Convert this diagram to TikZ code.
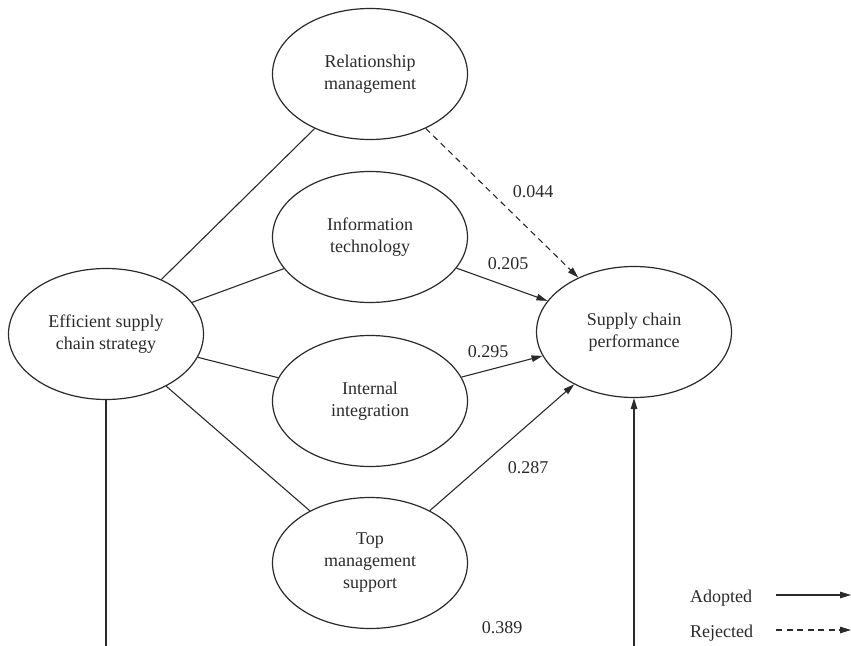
\documentclass[tikz,border=0pt]{standalone}
\usepackage{fontspec}
\setmainfont{Liberation Serif}
\usetikzlibrary{shapes.geometric,arrows.meta}
\definecolor{ink}{HTML}{2A2A2A}
\begin{document}
\begin{tikzpicture}[x=1pt,y=-1pt,
  ell/.style={draw=ink,line width=1.2pt,ellipse,minimum width=195pt,minimum height=131pt,inner sep=0pt,align=center,font=\fontsize{18}{22}\selectfont,text=ink},
  lbl/.style={font=\fontsize{18}{22}\selectfont,text=ink,inner sep=0pt},
  conn/.style={draw=ink,line width=1.1pt},
  arr/.style={conn,-{Triangle[length=11pt,width=6.5pt]}},
  rej/.style={arr,dash pattern=on 6pt off 4.5pt}]
\useasboundingbox (0,0) rectangle (851,645);
\node[ell] (rel) at (370,74) {Relationship\\management};
\node[ell] (it) at (370,237) {Information\\technology};
\node[ell] (ii) at (370,401) {Internal\\integration};
\node[ell] (tms) at (370,563) {Top\\management\\support};
\node[ell] (escs) at (106,334) {Efficient supply\\chain strategy};
\node[ell] (scp) at (634,332) {Supply chain\\performance};
\draw[conn] (escs) -- (rel);
\draw[conn] (escs) -- (it);
\draw[conn] (escs) -- (ii);
\draw[conn] (escs) -- (tms);
\draw[rej] (rel) -- (scp);
\draw[arr] (it) -- (scp);
\draw[arr] (ii) -- (scp);
\draw[arr] (tms) -- (scp);
\coordinate (b1) at (106,646);
\coordinate (b2) at (634,646);
\draw[conn] (escs.south) -- (b1);
\draw[arr] (b2) -- (scp.south);
\node[lbl] (l1) at (533,192) {0.044};
\node[lbl] (l2) at (508,264) {0.205};
\node[lbl] (l3) at (488,352) {0.295};
\node[lbl] (l4) at (528,468) {0.287};
\node[lbl] (l5) at (502,628) {0.389};
\node[lbl,anchor=base west] (ad) at (690,602) {Adopted};
\node[lbl,anchor=base west] (rj) at (690,637) {Rejected};
\coordinate (a1) at (776,595);
\coordinate (a2) at (851,595);
\coordinate (r1) at (776,630);
\coordinate (r2) at (851,630);
\draw[arr] (a1) -- (a2);
\draw[rej] (r1) -- (r2);
\end{tikzpicture}
\end{document}
